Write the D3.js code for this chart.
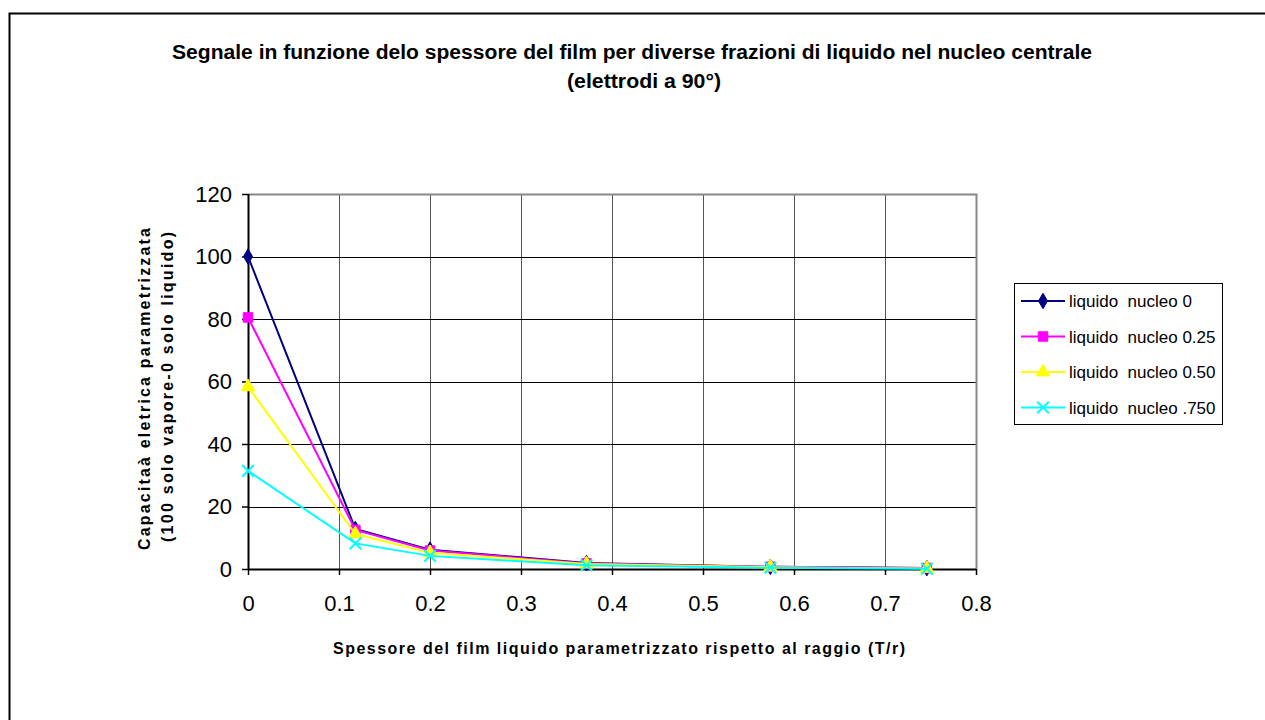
<!DOCTYPE html>
<html><head><meta charset="utf-8">
<script src="https://cdn.jsdelivr.net/npm/d3@7"></script>
<style>body{margin:0;background:#fff}svg{display:block}text{font-family:Arial,"Liberation Sans",sans-serif}</style>
</head><body>
<svg id="c" width="1265" height="720"></svg>
<script>
const xValues = [0, 0.118, 0.2, 0.372, 0.574, 0.746];
const seriesNames = ["liquido  nucleo 0", "liquido  nucleo 0.25", "liquido  nucleo 0.50", "liquido  nucleo .750"];
const nucleo0 = [100, 12.8, 6.2, 1.9, 0.7, 0.3];
const nucleo025 = [80.5, 12.5, 5.9, 1.8, 0.7, 0.3];
const nucleo050 = [58.3, 11.2, 5.2, 1.6, 0.6, 0.2];
const nucleo075 = [31.4, 8.2, 4.2, 1.2, 0.4, 0.1];
const xTicks = [0, 0.1, 0.2, 0.3, 0.4, 0.5, 0.6, 0.7, 0.8];
const yTicks = [0, 20, 40, 60, 80, 100, 120];
const titleLines = ["Segnale in funzione delo spessore del film per diverse frazioni di liquido nel nucleo centrale", "(elettrodi a 90°)"];
const yLabelLines = ["Capacitaà eletrica parametrizzata", "(100 solo vapore-0 solo liquido)"];
const xLabel = "Spessore del film liquido parametrizzato rispetto al raggio (T/r)";

const colors = ["#000080", "#FF00FF", "#FFFF00", "#00FFFF"];
const symbols = ["diamond", "square", "triangle", "x"];
const series = [nucleo0, nucleo025, nucleo050, nucleo075].map((v, i) => ({name: seriesNames[i], values: v, color: colors[i], sym: symbols[i]}));

const svg = d3.select("#c");
// outer chart border
svg.append("rect").attr("x", 9.5).attr("y", 13.5).attr("width", 1300).attr("height", 800)
  .attr("fill", "#fff").attr("stroke", "#000").attr("stroke-width", 2);

const L = 248, R = 976, T = 194, B = 569;
const x = d3.scaleLinear().domain([0, 0.8]).range([L, R]);
const y = d3.scaleLinear().domain([0, 120]).range([B, T]);

// gridlines
svg.append("g").selectAll("line").data(xTicks.slice(1)).join("line")
  .attr("x1", d => Math.round(x(d)) + 0.5).attr("x2", d => Math.round(x(d)) + 0.5)
  .attr("y1", T).attr("y2", B).attr("stroke", "#555").attr("stroke-width", 1);
svg.append("g").selectAll("line").data(yTicks.slice(1)).join("line")
  .attr("x1", L).attr("x2", R).attr("y1", d => Math.round(y(d)) + 0.5).attr("y2", d => Math.round(y(d)) + 0.5)
  .attr("stroke", "#000").attr("stroke-width", 1);
// plot border top/right gray
svg.append("path").attr("d", `M${L},${T+0.5}H${R+0.5}V${B}`).attr("fill", "none").attr("stroke", "#888").attr("stroke-width", 2);

// axes
const xAxis = d3.axisBottom(x).tickValues(xTicks).tickSize(6).tickPadding(20).tickFormat(d3.format("~g"));
const gx = svg.append("g").attr("transform", `translate(0,${B})`).call(xAxis);
const yAxis = d3.axisLeft(y).tickValues(yTicks).tickSize(6).tickPadding(10).tickFormat(d3.format("d"));
const gy = svg.append("g").attr("transform", `translate(${L},0)`).call(yAxis);
[gx, gy].forEach(g => {
  g.select(".domain").attr("stroke", "#000").attr("stroke-width", 2);
  g.selectAll(".tick line").attr("stroke", "#000").attr("stroke-width", 1.5);
  g.selectAll(".tick text").attr("font-size", 22).attr("fill", "#000").attr("font-family", "Arial, 'Liberation Sans', sans-serif");
});
gx.select(".domain").attr("d", `M${L},0.5H${R}`);
gy.select(".domain").attr("d", `M0.5,${B}V${T}`);

const symMap = {diamond: d3.symbolDiamond, square: d3.symbolSquare, triangle: d3.symbolTriangle, x: d3.symbolX};
const symSize = {diamond: 70, square: 90, triangle: 80, x: 90};
const line = d3.line().x(d => x(d[0])).y(d => y(d[1]));

function drawMarker(g, s, cx, cy) {
  const p = g.append("path").attr("d", d3.symbol(symMap[s.sym], symSize[s.sym])()).attr("transform", `translate(${cx},${cy})`);
  if (s.sym === "x") p.attr("fill", "none").attr("stroke", s.color).attr("stroke-width", 2);
  else p.attr("fill", s.color).attr("stroke", s.color).attr("stroke-width", 1);
}

series.forEach(s => {
  const pts = xValues.map((xv, i) => [xv, s.values[i]]);
  const g = svg.append("g");
  g.append("path").attr("d", line(pts)).attr("fill", "none").attr("stroke", s.color).attr("stroke-width", 2);
  pts.forEach(p => drawMarker(g, s, x(p[0]), y(p[1])));
});

// title
svg.append("text").attr("x", 632).attr("y", 59).attr("text-anchor", "middle").attr("font-weight", "bold").attr("font-size", 20)
  .attr("textLength", 920).attr("lengthAdjust", "spacingAndGlyphs").text(titleLines[0]);
svg.append("text").attr("x", 644).attr("y", 88).attr("text-anchor", "middle").attr("font-weight", "bold").attr("font-size", 20)
  .attr("textLength", 154).attr("lengthAdjust", "spacingAndGlyphs").text(titleLines[1]);

// y label
svg.append("text").attr("transform", "translate(150,389) rotate(-90)").attr("text-anchor", "middle").attr("font-weight", "bold").attr("font-size", 16)
  .attr("textLength", 322).attr("lengthAdjust", "spacing").text(yLabelLines[0]);
svg.append("text").attr("transform", "translate(173,387) rotate(-90)").attr("text-anchor", "middle").attr("font-weight", "bold").attr("font-size", 16)
  .attr("textLength", 310).attr("lengthAdjust", "spacing").text(yLabelLines[1]);

// x label
svg.append("text").attr("x", 619).attr("y", 654).attr("text-anchor", "middle").attr("font-weight", "bold").attr("font-size", 16)
  .attr("textLength", 572).attr("lengthAdjust", "spacing").text(xLabel);

// legend
const lg = svg.append("g");
lg.append("rect").attr("x", 1014.5).attr("y", 283.5).attr("width", 208).attr("height", 141).attr("fill", "#fff").attr("stroke", "#000").attr("stroke-width", 1);
series.forEach((s, i) => {
  const cy = 301 + i * 35.5;
  lg.append("line").attr("x1", 1021).attr("x2", 1065).attr("y1", cy).attr("y2", cy).attr("stroke", s.color).attr("stroke-width", 2);
  drawMarker(lg, s, 1043, cy);
  lg.append("text").attr("x", 1069).attr("y", cy + 6).attr("font-size", 17).attr("fill", "#000").style("white-space", "pre").text(s.name);
});
</script>
</body></html>
